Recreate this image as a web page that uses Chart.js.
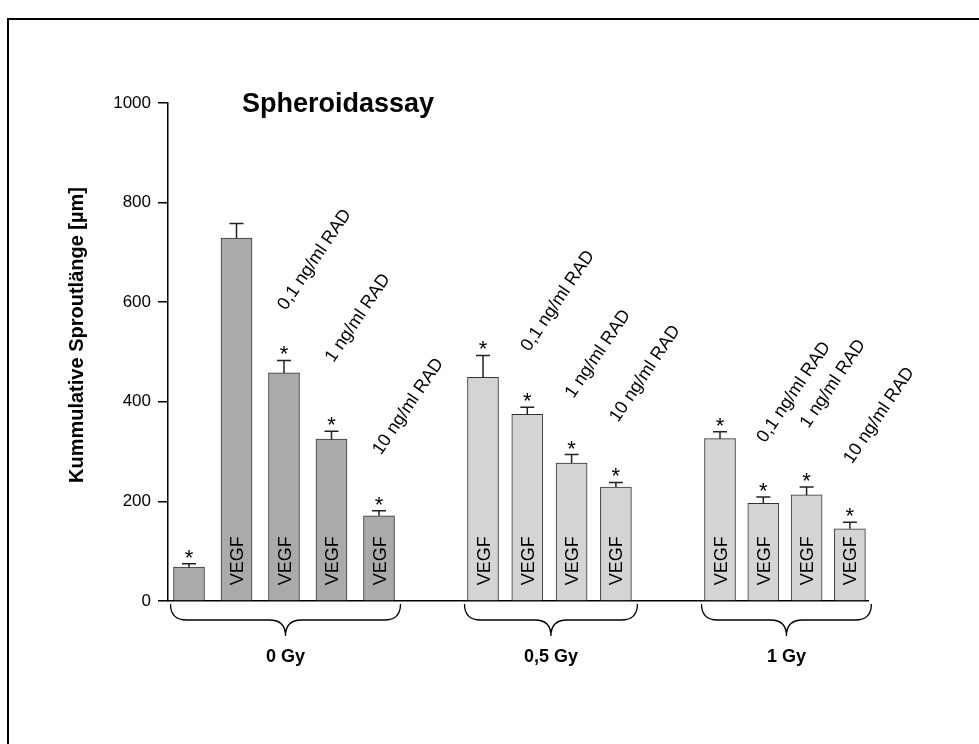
<!DOCTYPE html>
<html lang="de">
<head>
<meta charset="UTF-8">
<title>Spheroidassay</title>
<script src="https://cdn.jsdelivr.net/npm/chart.js"></script>
<style>
  html, body { margin: 0; padding: 0; background: #fff; }
  #wrap { width: 979px; height: 744px; position: relative; }
</style>
</head>
<body>
<div id="wrap"><canvas id="grafico"></canvas></div>
<script>
// Daten
const gruppen = ['0 Gy', '0,5 Gy', '1 Gy'];
const yTicks = [0, 200, 400, 600, 800, 1000];

const werte0 = [68, 729, 458, 325, 171];
const fehler0 = [7, 29, 25, 16, 10];
const stern0 = [true, false, true, true, true];
const vegf0 = [false, true, true, true, true];
const rad0 = ['', '', '0,1 ng/ml RAD', '1 ng/ml RAD', '10 ng/ml RAD'];

const werte05 = [449, 375, 277, 229];
const fehler05 = [44, 14, 17, 9];
const stern05 = [true, true, true, true];
const vegf05 = [true, true, true, true];
const rad05 = ['', '0,1 ng/ml RAD', '1 ng/ml RAD', '10 ng/ml RAD'];

const werte1 = [326, 196, 213, 145];
const fehler1 = [14, 13, 16, 13];
const stern1 = [true, true, true, true];
const vegf1 = [true, true, true, true];
const rad1 = ['', '0,1 ng/ml RAD', '1 ng/ml RAD', '10 ng/ml RAD'];

// Layout (Position der Balken entlang der x-Achse, 0..700)
const startX = [21, 315, 552];
const schritt = [47.5, 44.3, 43.3];
const farben = ['#aaaaaa', '#d4d4d4', '#d4d4d4'];
// Abstand der schraegen Beschriftung ueber dem Balken (px)
const abstand = [[0, 0, 62, 76, 60], [0, 62, 64, 64], [0, 60, 66, 64]];

const serien = [
  { werte: werte0, fehler: fehler0, stern: stern0, vegf: vegf0, rad: rad0 },
  { werte: werte05, fehler: fehler05, stern: stern05, vegf: vegf05, rad: rad05 },
  { werte: werte1, fehler: fehler1, stern: stern1, vegf: vegf1, rad: rad1 }
];

const FONT = '"Liberation Sans", Arial, sans-serif';

const datasets = serien.map((s, g) => ({
  label: gruppen[g],
  data: s.werte.map((v, i) => ({ x: startX[g] + i * schritt[g], y: v })),
  backgroundColor: farben[g],
  borderColor: '#333',
  borderWidth: 1,
  barThickness: 31,
  grouped: false
}));

const extras = {
  id: 'extras',
  beforeDraw(chart) {
    const ctx = chart.ctx;
    ctx.save();
    ctx.fillStyle = '#fff';
    ctx.fillRect(0, 0, chart.width, chart.height);
    // Rahmen
    ctx.strokeStyle = '#000';
    ctx.lineWidth = 2;
    ctx.beginPath();
    ctx.moveTo(8, chart.height);
    ctx.lineTo(8, 19);
    ctx.lineTo(chart.width, 19);
    ctx.stroke();
    ctx.restore();
  },
  afterDatasetsDraw(chart) {
    const ctx = chart.ctx;
    const y = chart.scales.y;
    ctx.save();

    serien.forEach((s, g) => {
      const meta = chart.getDatasetMeta(g);
      meta.data.forEach((bar, i) => {
        const cx = bar.x;
        const top = bar.y;
        const errTop = y.getPixelForValue(s.werte[i] + s.fehler[i]);

        // Fehlerbalken (nur nach oben)
        ctx.strokeStyle = '#222';
        ctx.lineWidth = 1.5;
        ctx.beginPath();
        ctx.moveTo(cx, top);
        ctx.lineTo(cx, errTop);
        ctx.moveTo(cx - 7, errTop);
        ctx.lineTo(cx + 7, errTop);
        ctx.stroke();

        // Signifikanz
        if (s.stern[i]) {
          ctx.fillStyle = '#000';
          ctx.font = '22px ' + FONT;
          ctx.textAlign = 'center';
          ctx.textBaseline = 'alphabetic';
          ctx.fillText('*', cx, errTop + 1);
        }

        // VEGF im Balken
        if (s.vegf[i]) {
          ctx.save();
          ctx.translate(cx + 6.5, bar.base - 15);
          ctx.rotate(-Math.PI / 2);
          ctx.fillStyle = '#000';
          ctx.font = '18px ' + FONT;
          ctx.textAlign = 'left';
          ctx.textBaseline = 'alphabetic';
          ctx.fillText('VEGF', 0, 0);
          ctx.restore();
        }

        // RAD-Konzentration schräg
        if (s.rad[i]) {
          ctx.save();
          ctx.translate(cx + 2, top - abstand[g][i]);
          ctx.rotate(-56 * Math.PI / 180);
          ctx.fillStyle = '#000';
          ctx.font = '18px ' + FONT;
          ctx.textAlign = 'left';
          ctx.textBaseline = 'alphabetic';
          ctx.fillText(s.rad[i], 0, 0);
          ctx.restore();
        }
      });

      // Klammer unter der Gruppe
      const first = meta.data[0];
      const last = meta.data[meta.data.length - 1];
      const x1 = first.x - first.width / 2 - 3;
      const x2 = last.x + last.width / 2 + 6;
      const cxm = (x1 + x2) / 2;
      const b0 = 604, bm = 620, bt = 636, r = 16;
      ctx.strokeStyle = '#000';
      ctx.lineWidth = 1.3;
      ctx.beginPath();
      ctx.moveTo(x1, b0);
      ctx.quadraticCurveTo(x1, bm, x1 + r, bm);
      ctx.lineTo(cxm - r, bm);
      ctx.quadraticCurveTo(cxm, bm, cxm, bt);
      ctx.quadraticCurveTo(cxm, bm, cxm + r, bm);
      ctx.lineTo(x2 - r, bm);
      ctx.quadraticCurveTo(x2, bm, x2, b0);
      ctx.stroke();

      ctx.fillStyle = '#000';
      ctx.font = 'bold 18px ' + FONT;
      ctx.textAlign = 'center';
      ctx.textBaseline = 'alphabetic';
      ctx.fillText(gruppen[g], cxm, 662);
    });

    // Titel
    ctx.fillStyle = '#000';
    ctx.font = 'bold 27px ' + FONT;
    ctx.textAlign = 'left';
    ctx.textBaseline = 'alphabetic';
    ctx.fillText('Spheroidassay', 242, 112);

    // y-Achsentitel
    ctx.save();
    ctx.translate(83, 335);
    ctx.rotate(-Math.PI / 2);
    ctx.font = 'bold 20px ' + FONT;
    ctx.textAlign = 'center';
    ctx.fillText('Kummulative Sproutlänge [µm]', 0, 0);
    ctx.restore();

    ctx.restore();
  }
};

new Chart(document.getElementById('grafico').getContext('2d'), {
  type: 'bar',
  data: { datasets },
  options: {
    responsive: true,
    maintainAspectRatio: false,
    animation: false,
    layout: { padding: { top: 103, right: 111, bottom: 143, left: 0 } },
    plugins: { legend: { display: false }, tooltip: { enabled: false } },
    scales: {
      x: {
        type: 'linear',
        min: 0,
        max: 700,
        offset: false,
        ticks: { display: false },
        grid: { drawOnChartArea: false, drawTicks: false },
        border: { display: true, color: '#000', width: 1.5 },
        afterFit(scale) { scale.height = 0; }
      },
      y: {
        min: 0,
        max: 1000,
        afterBuildTicks(axis) { axis.ticks = yTicks.map(v => ({ value: v })); },
        ticks: { color: '#000', font: { family: FONT, size: 17 }, padding: 7, callback: v => String(v) },
        grid: { drawOnChartArea: false, drawTicks: true, tickLength: 10, color: '#000', lineWidth: 1.5 },
        border: { display: true, color: '#000', width: 1.5 },
        afterFit(scale) { scale.width = 168; }
      }
    }
  },
  plugins: [extras]
});
</script>
</body>
</html>
